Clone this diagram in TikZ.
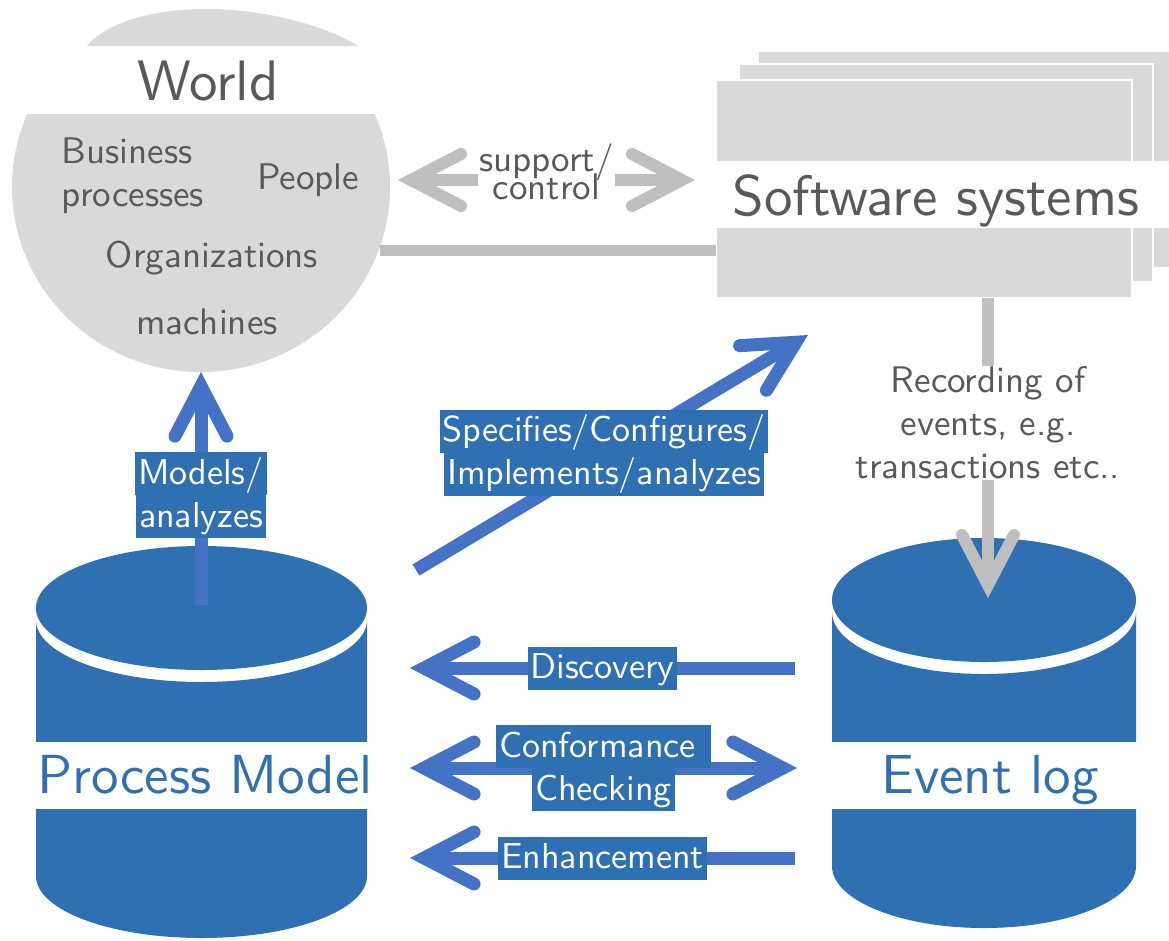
\documentclass[tikz,border=0pt]{standalone}
\usepackage{fontspec}
\setsansfont{lmsans10-regular.otf}
\usetikzlibrary{arrows.meta}

\definecolor{shapegray}{HTML}{D9D9D9}
\definecolor{arrowgray}{HTML}{BFBFBF}
\definecolor{textgray}{HTML}{595959}
\definecolor{arrowblue}{HTML}{4472C4}
\definecolor{dbblue}{HTML}{2F70B2}

% one highlighted line of a blue label
\newcommand{\lbl}[1]{{\setlength{\fboxsep}{0pt}\colorbox{dbblue}{\hspace{3pt}\rule[-11pt]{0pt}{43pt}#1\hspace{3pt}}}}

\tikzset{
  smalltext/.style={font=\sffamily\fontsize{37}{43}\selectfont, text=textgray, align=center, inner sep=0pt},
  bigtext/.style={font=\sffamily\fontsize{57}{64}\selectfont, inner sep=0pt},
  cyltext/.style={font=\sffamily\fontsize{55}{62}\selectfont, inner sep=0pt, text=dbblue},
  grayarrow/.style={draw=arrowgray, line width=12pt,
    >={Straight Barb[length=50pt, width=52pt, line cap=round]}},
  bluearrow/.style={draw=arrowblue, line width=13pt,
    >={Straight Barb[length=50pt, width=52pt, line cap=round]}},
  bluelabel/.style={font=\sffamily\fontsize{36}{43}\selectfont, text=white, align=center, inner sep=0pt},
  graylabel/.style={smalltext, fill=white, inner sep=1pt},
  stackrect/.style={fill=shapegray, draw=white, line width=1.5pt},
  cylfill/.style={fill=dbblue},
}

\begin{document}
\begin{tikzpicture}[x=1pt, y=-1pt]
\useasboundingbox (0,0) rectangle (1169,940);
\fill[white] (0,0) rectangle (1169,940);

% ---------- World ----------
\fill[shapegray] (201,187) ellipse [x radius=189pt, y radius=185pt];
\fill[white] (0,-5) rectangle (400,114);
\fill[shapegray] (87,46) .. controls (105,24) and (150,9) .. (205,9)
  .. controls (270,9) and (330,28) .. (358,46) -- cycle;
\node[bigtext, text=textgray] (world) at (208,81) {World};
\node[smalltext, align=left] (bp) at (133,176) {Business\\processes};
\node[smalltext] (people) at (308,180) {People};
\node[smalltext] (orgs) at (212,258) {Organizations};
\node[smalltext] (machines) at (207,322) {machines};

% ---------- Software systems ----------
\path[stackrect] (758,51) rectangle (1190,268);
\path[stackrect] (739,64) rectangle (1153,282);
\path[stackrect] (716,80) rectangle (1132,298);
\fill[white] (712,161) rectangle (1190,228);
\node[bigtext, text=textgray] (software) at (936,201) {Software systems};

% ---------- Process model cylinder ----------
\path[cylfill] (36,620) arc[start angle=180, end angle=360, x radius=165.5pt, y radius=62pt]
  -- (367,876) arc[start angle=0, end angle=-180, x radius=165.5pt, y radius=62pt] -- cycle;
\fill[dbblue] (201.5,608) ellipse [x radius=165.5pt, y radius=62pt];
\fill[white] (30,742) rectangle (372,809);
\node[cyltext] (pm) at (205,775) {Process Model};

% ---------- Event log cylinder ----------
\path[cylfill] (832,612) arc[start angle=180, end angle=360, x radius=152pt, y radius=62pt]
  -- (1136,866) arc[start angle=0, end angle=-180, x radius=152pt, y radius=62pt] -- cycle;
\fill[dbblue] (984,600) ellipse [x radius=152pt, y radius=62pt];
\fill[white] (826,742) rectangle (1142,809);
\node[cyltext] (el) at (990,780) {Event log};

% ---------- connector end points ----------
\coordinate (world-east) at (380,250);
\coordinate (soft-west) at (716,250);
\coordinate (sup-left) at (398,180);
\coordinate (sup-right) at (695,180);
\coordinate (soft-bottom) at (988,298);
\coordinate (el-top) at (988,598);
\coordinate (pm-top) at (201,605);
\coordinate (world-bottom) at (201,372);
\coordinate (pm-ne) at (416,570);
\coordinate (soft-sw) at (808,335);
\coordinate (el-w1) at (795,668);
\coordinate (pm-e1) at (410,668);
\coordinate (pm-e2) at (410,768);
\coordinate (el-w2) at (797,768);
\coordinate (el-w3) at (795,858);
\coordinate (pm-e3) at (410,858);

% ---------- gray connectors ----------
\draw[draw=arrowgray, line width=11pt] (world-east) -- (soft-west);
\draw[grayarrow, <->] (sup-left) -- (sup-right)
  node[graylabel, midway, yshift=8pt] (suplbl) {support/\\[-15pt]control};
\draw[grayarrow, ->] (soft-bottom) -- (el-top)
  node[graylabel, pos=0.417] (reclbl) {Recording of\\events, e.g.\\transactions etc..};

% ---------- blue connectors ----------
\draw[bluearrow, ->] (pm-top) -- (world-bottom)
  node[bluelabel, pos=0.472] (modlbl) {\lbl{Models/}\\\lbl{analyzes}};
\draw[bluearrow, ->] (pm-ne) -- (soft-sw)
  node[bluelabel, midway, xshift=-8pt] (speclbl) {\lbl{Specifies/Configures/}\\\lbl{Implements/analyzes}};
\draw[bluearrow, ->] (el-w1) -- (pm-e1)
  node[bluelabel, midway] (disclbl) {\lbl{Discovery}};
\draw[bluearrow, <->] (pm-e2) -- (el-w2)
  node[bluelabel, midway] (conflbl) {\lbl{Conformance\ }\\\lbl{Checking}};
\draw[bluearrow, ->] (el-w3) -- (pm-e3)
  node[bluelabel, midway] (enhlbl) {\lbl{Enhancement}};
\end{tikzpicture}
\end{document}
